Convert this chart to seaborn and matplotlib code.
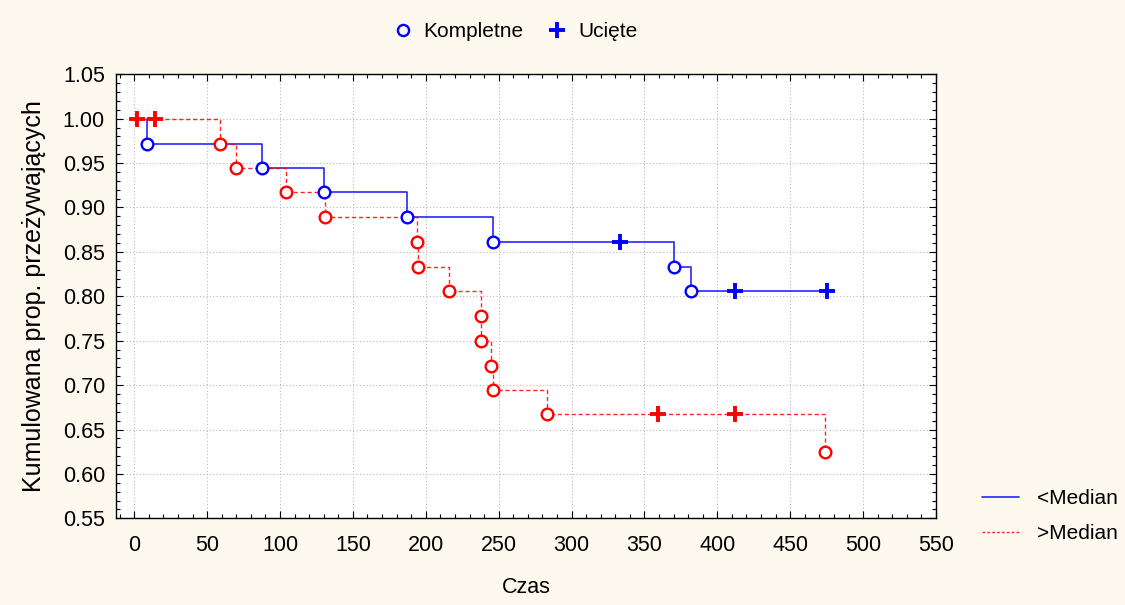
import matplotlib
matplotlib.use("Agg")
import matplotlib.pyplot as plt
from matplotlib.lines import Line2D
from matplotlib.ticker import MultipleLocator
import seaborn as sns

# ---- data ----
blue_event_t = [9, 88, 130, 187, 246, 370, 382]
blue_event_s = [0.972, 0.944, 0.917, 0.889, 0.861, 0.833, 0.806]
blue_cens_t = [333, 412, 475]
blue_cens_s = [0.861, 0.806, 0.806]

red_event_t = [59, 70, 104, 131, 194, 195, 216, 238, 238, 245, 246, 283, 474]
red_event_s = [0.972, 0.944, 0.917, 0.889, 0.861, 0.833, 0.806, 0.778, 0.750,
               0.722, 0.694, 0.667, 0.625]
red_cens_t = [2, 14, 359, 412]
red_cens_s = [1.0, 1.0, 0.667, 0.667]

group_labels = ["<Median", ">Median"]
marker_labels = ["Kompletne", "Ucięte"]
x_label = "Czas"
y_label = "Kumulowana prop. przeżywających"

sns.set_style("ticks")
plt.rcParams["font.family"] = ["Liberation Sans", "DejaVu Sans"]
plt.rcParams["text.color"] = "black"
plt.rcParams["axes.labelcolor"] = "black"
plt.rcParams["xtick.color"] = "black"
plt.rcParams["ytick.color"] = "black"

BG = "#fdf9ee"
BLUE = "#0000ff"
RED = "#ff0000"


def step_path(ev_t, ev_s, ce_t, ce_s):
    pts = sorted([(t, s, 0) for t, s in zip(ev_t, ev_s)] +
                 [(t, s, 1) for t, s in zip(ce_t, ce_s)], key=lambda p: (p[0], -p[1]))
    xs, ys = [], []
    cur = 1.0
    start = pts[0][0]
    xs.append(start)
    ys.append(cur)
    for t, s, c in pts:
        xs.append(t); ys.append(cur)
        if s != cur:
            xs.append(t); ys.append(s)
            cur = s
    return xs, ys


fig = plt.figure(figsize=(11.25, 6.05), dpi=100, facecolor=BG)
ax = fig.add_axes([0.1031, 0.1433, 0.7289, 0.7339])
ax.set_facecolor("white")

bx, by = step_path(blue_event_t, blue_event_s, blue_cens_t, blue_cens_s)
rx, ry = step_path(red_event_t, red_event_s, red_cens_t, red_cens_s)

sns.lineplot(x=bx, y=by, ax=ax, color=BLUE, lw=1.2, sort=False, estimator=None, alpha=0.85)
sns.lineplot(x=rx, y=ry, ax=ax, color=RED, lw=1.0, sort=False, estimator=None,
             linestyle=(0, (3, 2)), alpha=0.85)

sns.scatterplot(x=blue_event_t, y=blue_event_s, ax=ax, marker="o", s=70,
                facecolors="white", edgecolors=BLUE, linewidth=1.7, zorder=5)
sns.scatterplot(x=red_event_t, y=red_event_s, ax=ax, marker="o", s=70,
                facecolors="white", edgecolors=RED, linewidth=1.7, zorder=5)
sns.scatterplot(x=blue_cens_t, y=blue_cens_s, ax=ax, marker="+", s=120,
                color=BLUE, linewidth=2.8, zorder=6)
sns.scatterplot(x=red_cens_t, y=red_cens_s, ax=ax, marker="+", s=120,
                color=RED, linewidth=2.8, zorder=6)

ax.set_xlim(-12.5, 550)
ax.set_ylim(0.55, 1.05)
ax.xaxis.set_major_locator(MultipleLocator(50))
ax.xaxis.set_minor_locator(MultipleLocator(10))
ax.yaxis.set_major_locator(MultipleLocator(0.05))
ax.yaxis.set_minor_locator(MultipleLocator(0.01))
ax.yaxis.set_major_formatter(matplotlib.ticker.FormatStrFormatter("%.2f"))
ax.tick_params(which="both", direction="in", top=True, right=True,
               labelsize=15.5, color="black", labelcolor="black")
ax.tick_params(axis="x", which="major", length=5, width=0.8, pad=12)
ax.tick_params(axis="y", which="major", length=5, width=0.8, pad=8)
ax.tick_params(which="minor", length=3, width=0.8)
ax.grid(True, which="major", linestyle=(0, (1, 2)), color="#b8b8b8", lw=0.8)
for sp in ax.spines.values():
    sp.set_visible(True)
    sp.set_color("black")
    sp.set_linewidth(1.0)

ax.set_xlabel(x_label, fontsize=15.5, labelpad=15, color="black")
ax.set_ylabel(y_label, fontsize=18, labelpad=12, color="black")

top_handles = [
    Line2D([], [], marker="o", ls="none", mfc="white", mec=BLUE, mew=1.7, ms=8),
    Line2D([], [], marker="+", ls="none", color=BLUE, mew=2.8, ms=11),
]
fig.legend(top_handles, marker_labels, loc="center", bbox_to_anchor=(0.4585, 0.948),
           ncol=2, frameon=False, fontsize=15, handlelength=0.8, handletextpad=0.6,
           columnspacing=1.2, labelcolor="black")

grp_handles = [
    Line2D([], [], color=BLUE, lw=1.2, alpha=0.85),
    Line2D([], [], color=RED, lw=1.0, ls=(0, (2, 1.5)), alpha=0.85),
]
fig.legend(grp_handles, group_labels, loc="center left", bbox_to_anchor=(0.873, 0.147),
           frameon=False, fontsize=15, handlelength=1.75, handletextpad=0.9,
           labelspacing=0.75, borderpad=0, borderaxespad=0, labelcolor="black")

fig.savefig("out.png", dpi=100, facecolor=BG)
